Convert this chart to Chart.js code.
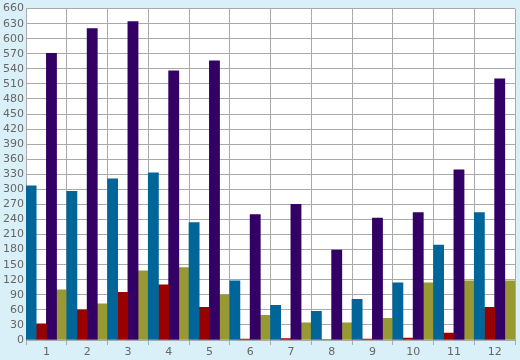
<!DOCTYPE html>
<html>
<head>
<meta charset="utf-8">
<script src="https://cdn.jsdelivr.net/npm/chart.js@4/dist/chart.umd.min.js"></script>
<style>
  html, body { margin: 0; padding: 0; background: #d9f0f8; }
  #wrap { width: 520px; height: 360px; }
</style>
</head>
<body>
<div id="wrap"><canvas id="chart" width="520" height="360"></canvas></div>
<script>
const labels = ["1", "2", "3", "4", "5", "6", "7", "8", "9", "10", "11", "12"];
const blueValues = [307, 296, 321, 333, 234, 118, 69, 57, 81, 114, 189, 254];
const redValues = [32, 60, 95, 110, 65, 2, 3, 1, 2, 4, 14, 65];
const purpleValues = [571, 620, 634, 536, 556, 250, 270, 179, 243, 254, 339, 520];
const oliveValues = [100, 72, 138, 144, 90, 49, 34, 34, 43, 114, 118, 118];

const bgPlugin = {
    id: "bg",
    beforeDraw(chart) {
        const { ctx, chartArea } = chart;
        ctx.save();
        ctx.fillStyle = "#d9f0f8";
        ctx.fillRect(0, 0, chart.width, chart.height);
        ctx.fillStyle = "#ffffff";
        ctx.fillRect(chartArea.left, chartArea.top, chartArea.right - chartArea.left, chartArea.bottom - chartArea.top);
        ctx.restore();
    }
};

function series(data, color) {
    return {
        data: data,
        backgroundColor: color,
        borderWidth: 0,
        categoryPercentage: 1,
        barPercentage: 1
    };
}

new Chart(document.getElementById("chart"), {
    type: "bar",
    data: {
        labels: labels,
        datasets: [
            series(blueValues, "#006699"),
            series(redValues, "#990000"),
            series(purpleValues, "#330066"),
            series(oliveValues, "#999933")
        ]
    },
    options: {
        responsive: false,
        animation: false,
        layout: { padding: { top: 5, right: 5, left: 0, bottom: 0 } },
        plugins: { legend: { display: false }, tooltip: { enabled: false } },
        scales: {
            x: {
                grid: { color: "#aaaaaa", lineWidth: 1, tickLength: 5, offset: true },
                border: { color: "#aaaaaa" },
                ticks: { color: "#666666", font: { family: "DejaVu Sans", size: 11 }, padding: 1 },
                afterFit(scale) { scale.height = 20; }
            },
            y: {
                min: 0,
                max: 660,
                grid: { color: "#aaaaaa", lineWidth: 1, drawTicks: false },
                border: { color: "#aaaaaa" },
                ticks: {
                    stepSize: 30,
                    autoSkip: false,
                    color: "#666666",
                    font: { family: "DejaVu Sans", size: 11 },
                    padding: 2
                },
                afterFit(scale) { scale.width = 26; }
            }
        }
    },
    plugins: [bgPlugin]
});
</script>
</body>
</html>
